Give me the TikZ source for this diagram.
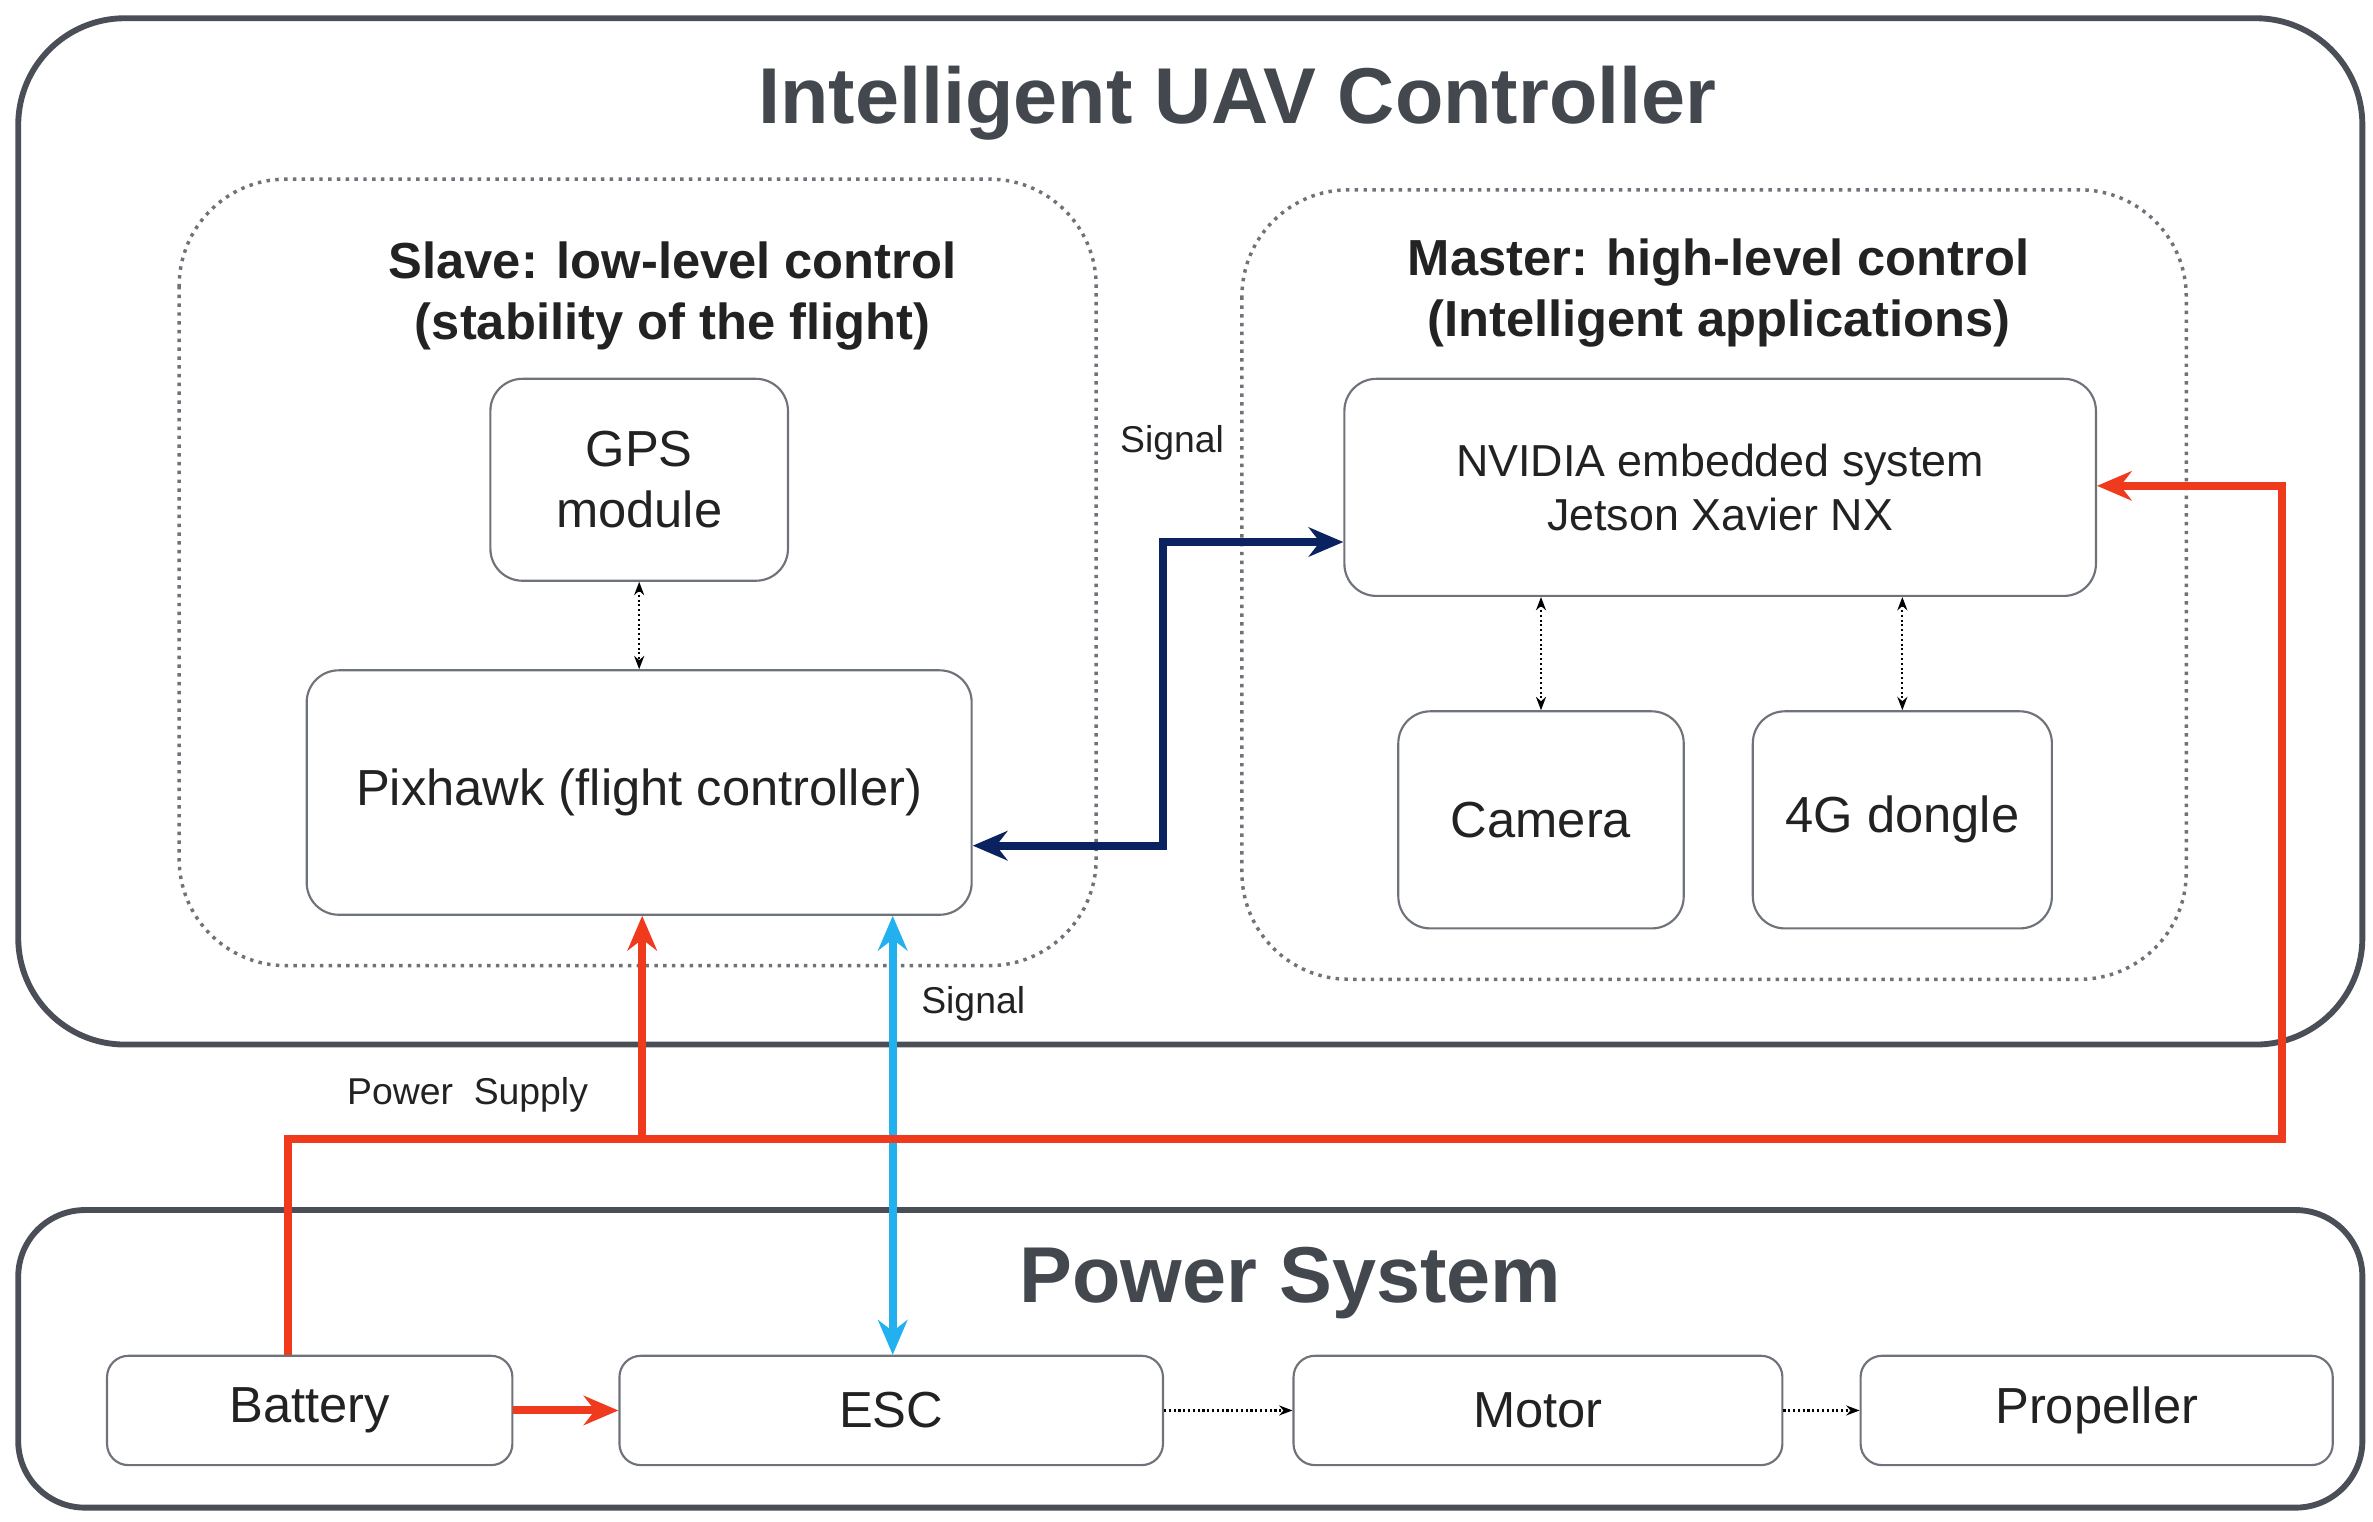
\documentclass[tikz,border=0pt]{standalone}
\usepackage{fontspec}
\setmainfont{Liberation Sans}
\usetikzlibrary{arrows.meta}
\definecolor{frame}{HTML}{4A4F57}
\definecolor{txt}{HTML}{222222}
\definecolor{pred}{HTML}{F03A1E}
\definecolor{pnavy}{HTML}{0B2260}
\definecolor{pcyan}{HTML}{22B0EE}
\begin{document}
\begin{tikzpicture}[x=0.02cm,y=-0.02cm,
 box/.style={draw=frame!80,line width=0.8pt,rounded corners=12pt,text=txt,align=center,font=\fontsize{19}{23}\selectfont},
 big/.style={draw=frame,line width=2.2pt,rounded corners=40pt},
 dotbox/.style={draw=frame!80,dotted,line width=1.3pt,rounded corners=40pt},
 ttl/.style={text=frame!90!black,font=\bfseries\fontsize{29.7}{36}\selectfont},
 sub/.style={text=txt,align=center,font=\bfseries\fontsize{19}{23}\selectfont},
 lab/.style={text=txt,font=\fontsize{14}{17}\selectfont},
 dd/.style={densely dotted,line width=0.8pt,{Stealth[length=5pt]}-{Stealth[length=5pt]}},
 ds/.style={densely dotted,line width=0.8pt,-{Stealth[length=5pt]}},
 pw/.style={pred,line width=3pt}]
\useasboundingbox (0,0) rectangle (1563,1002);
\draw[big] (12,12) rectangle (1556,688);
\node[ttl] (t1) at (815,68) {Intelligent UAV Controller};
\draw[dotbox] (118,118) rectangle (722,636);
\node[sub] (s1) at (443,195) {Slave: low-level control\\(stability of the flight)};
\draw[dotbox] (818,125) rectangle (1440,645);
\node[sub] (s2) at (1132,193) {Master: high-level control\\(Intelligent applications)};
\node[box,minimum width=196*0.02cm,minimum height=133*0.02cm] (gps) at (421,316) {GPS\\module};
\node[box,minimum width=438*0.02cm,minimum height=161*0.02cm] (pix) at (421,522) {Pixhawk (flight controller)};
\node[box,minimum width=495*0.02cm,minimum height=143*0.02cm,font=\fontsize{16.8}{20}\selectfont] (nv) at (1133,321) {NVIDIA embedded system\\Jetson Xavier NX};
\node[box,minimum width=188*0.02cm,minimum height=143*0.02cm] (cam) at (1015,540) {Camera};
\node[box,minimum width=197*0.02cm,minimum height=143*0.02cm] (dg) at (1253,540) {4G dongle};
\draw[big,rounded corners=25pt] (12,797) rectangle (1556,993);
\node[ttl] (t2) at (850,845) {Power System};
\node[box,rounded corners=8pt,minimum width=267*0.02cm,minimum height=72*0.02cm] (bat) at (204,929) {Battery};
\node[box,rounded corners=8pt,minimum width=358*0.02cm,minimum height=72*0.02cm] (esc) at (587,929) {ESC};
\node[box,rounded corners=8pt,minimum width=322*0.02cm,minimum height=72*0.02cm] (mot) at (1013,929) {Motor};
\node[box,rounded corners=8pt,minimum width=311*0.02cm,minimum height=72*0.02cm] (pro) at (1381,929) {Propeller};
\draw[dd] (gps) -- (pix);
\draw[dd] (nv.south -| cam) -- (cam);
\draw[dd] (nv.south -| dg) -- (dg);
\draw[ds] (esc) -- (mot);
\draw[ds] (mot) -- (pro);
\coordinate (n1) at (766,557);
\coordinate (n2) at (766,357);
\draw[pnavy,line width=3pt,{Stealth[length=13pt,width=11pt]}-{Stealth[length=13pt,width=11pt]}] (pix.east |- n1) -- (n1) -- (n2) -- (nv.west |- n2);
\node[lab] (sg1) at (772,292) {Signal};
\draw[pcyan,line width=3pt,{Stealth[length=13pt,width=11pt]}-{Stealth[length=13pt,width=11pt]}] (esc.north -| 588,0) -- (pix.south -| 588,0);
\node[lab] (sg2) at (641,661) {Signal};
\coordinate (p1) at (190,750);
\coordinate (p2) at (423,750);
\coordinate (p3) at (1503,750);
\coordinate (p4) at (1503,320);
\draw[pw,-{Stealth[length=13pt,width=11pt]}] (bat.north -| p1) -- (p1) -- (p3) -- (p4) -- (nv.east |- p4);
\draw[pw,-{Stealth[length=13pt,width=11pt]}] (p2) -- (pix.south -| p2);
\draw[pw,-{Stealth[length=13pt,width=11pt]}] (bat) -- (esc);
\node[lab] (ps) at (308,721) {Power\ \ Supply};
\end{tikzpicture}
\end{document}
